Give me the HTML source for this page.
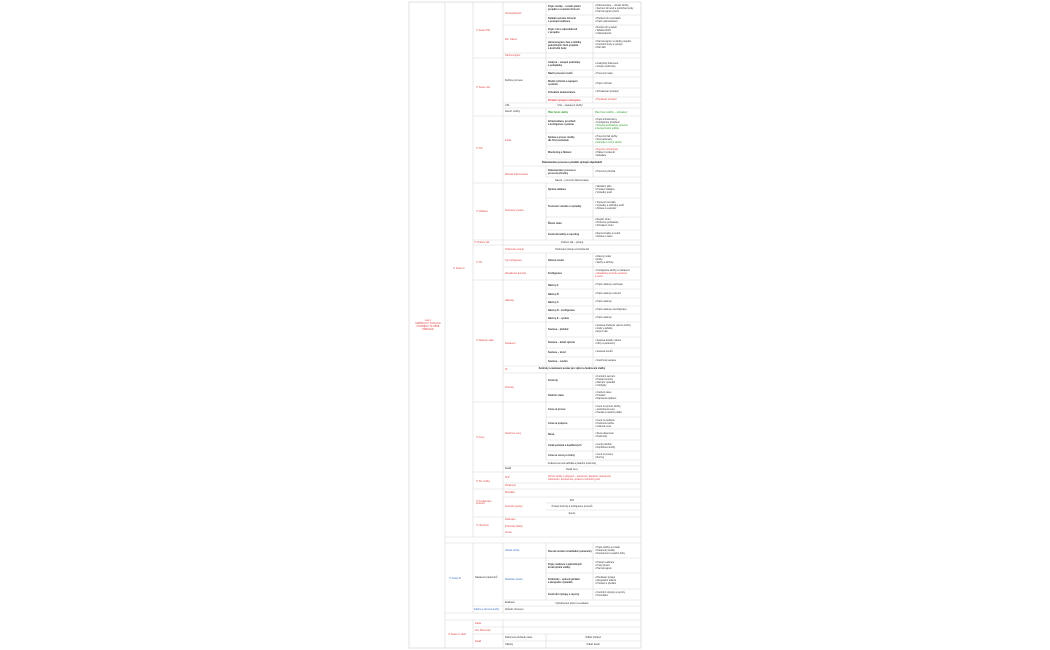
<!DOCTYPE html>
<html><head><meta charset="utf-8"><style>
html,body{margin:0;padding:0;background:#fff;width:1050px;height:650px;overflow:hidden}
svg{display:block}
text{font-family:"Liberation Sans",sans-serif;font-size:2.4px;fill:#333}
.r{fill:#e04545}.b{fill:#3a6fc0}.g{fill:#2a9a2a}.d{fill:#222;font-weight:bold}
.c{text-anchor:middle}
</style></head><body>
<svg width="1050" height="650" viewBox="0 0 1050 650">
<g stroke="#d8d8d8" stroke-width="0.6" fill="none">
<rect x="409" y="2" width="232" height="646" stroke="#cfcfcf"/>
<path d="M445 2V648 M473 2V537 M473 543V613 M473 620V648 M503 2V537 M503 543V613 M503 620V648"/>
<path d="M546 2V103 M546 108V159 M546 166V177 M546 183V240 M546 253V366 M546 373V460 M546 543V600 M546 634V648"/>
<path d="M593 2V103 M593 108V159 M593 166V177 M593 183V240 M593 253V366 M593 373V460 M593 543V600"/>
<path d="M445 537H641 M445 543H641 M445 613H641 M445 620H641"/>
<path d="M473 58H641 M473 116H641 M473 183H641 M473 240H641 M473 245H641 M473 280H641 M473 402H641 M473 472H641 M473 489H641 M473 517H641 M473 606H641 M473 627H641 M473 634H641"/>
<path d="M503 25H641 M503 53H641 M503 103H641 M503 108H641 M503 166H641 M503 253H641 M503 267H641 M503 322H641 M503 366H641 M503 373H641 M503 466H641 M503 483H641 M503 497H641 M503 558H641 M503 600H641 M503 641H641"/>
<path d="M546 15H641 M546 38H641 M546 70H641 M546 77H641 M546 88H641 M546 97H641 M546 133H641 M546 146H641 M546 159H641 M546 177H641 M546 198H641 M546 217H641 M546 230H641 M546 289H641 M546 298H641 M546 306H641 M546 314H641 M546 337H641 M546 348H641 M546 357H641 M546 389H641 M546 417H641 M546 429H641 M546 440H641 M546 451H641 M546 460H641 M546 503H641 M546 510H641 M546 573H641 M546 589H641"/>
</g>
<!-- column A -->
<text class="r c" x="428" y="321">cenny</text>
<text class="r c" x="428" y="324">NABÍDKOVÝ KATALOG</text>
<text class="r c" x="428" y="327">PODMÍNKY SLUŽEB</text>
<text class="r c" x="428" y="330">PŘEHLED</text>
<!-- column B -->
<text class="r" x="453" y="269">☐ Sekce A</text>
<text class="b" x="449" y="579">☐ Sekce B</text>
<text class="r" x="448" y="635">☐ Sekce C závěr</text>
<!-- column C -->
<text class="r" x="476" y="31">☐ Sekce PM</text>
<text class="r" x="476" y="88">☐ Sekce role</text>
<text class="r" x="476" y="149">☐ TIS</text>
<text class="r" x="476" y="212">☐ Validace</text>
<text class="r" x="474" y="243">☐ Ověření dat</text>
<text class="r" x="476" y="263">☐ TR</text>
<text class="r" x="476" y="341">☐ Nástroje sada</text>
<text class="r" x="476" y="438">☐ Ceny</text>
<text class="r" x="476" y="482">☐ Síť, služby</text>
<text class="r" x="476" y="502">☐ Konfigurace</text>
<text class="r" x="476" y="504">procesů</text>
<text class="r" x="476" y="526">☐ Ukončení</text>
<text x="475" y="578">Nastavení parametrů</text>
<text class="b" x="474" y="610">Záloha a obnova služby</text>
<text class="r" x="475" y="624">Fakta</text>
<text class="r" x="475" y="631">Dne Plánování</text>
<text class="r" x="475" y="642">Detail</text>
<!-- column D -->
<text class="r" x="505" y="14">Szczegółowość</text>
<text class="r" x="505" y="40">Rol, zakres</text>
<text class="r" x="505" y="56">Harmonogram</text>
<text x="505" y="81">Definice procesu</text>
<text x="505" y="106">USL</text>
<text x="505" y="112">Zaměř. služby</text>
<text class="r" x="505" y="141">Inside</text>
<text class="r" x="505" y="175">Rozsah dokumentace</text>
<text class="r" x="505" y="211">Současný systém</text>
<text class="r" x="505" y="250">Ověřovací postup</text>
<text class="r" x="505" y="261">Typ konfigurace</text>
<text class="r" x="505" y="274">Aktualizace konzole</text>
<text class="r" x="505" y="301">Nástroje</text>
<text class="r" x="505" y="344">Sestavení</text>
<text class="r" x="505" y="370">Dl</text>
<text class="r" x="505" y="388">Kontroly</text>
<text class="r" x="505" y="434">Souhrnné ceny</text>
<text x="505" y="469">Detail</text>
<text class="r" x="505" y="478">SLP</text>
<text class="r" x="505" y="486">Parametry</text>
<text class="r" x="505" y="493">Metodika</text>
<text class="r" x="505" y="507">Kontrolní postup</text>
<text class="r" x="505" y="520">Fakturace</text>
<text class="r" x="505" y="527">Podmínky platby</text>
<text class="r" x="505" y="533">Servis</text>
<text class="b" x="505" y="551">Obsah služby</text>
<text class="b" x="505" y="580">Realizace plnění</text>
<text x="505" y="603">Evaluace</text>
<text x="505" y="610">Způsob obnovení</text>
<text x="505" y="638">Dokument přehledu stavu</text>
<text x="505" y="645">Odkazy</text>
<!-- column E -->
<g class="d">
<text x="548" y="7">Popis služby – rozsah plnění</text><text x="548" y="10">projektu a souvislé činnosti</text>
<text x="548" y="19">Detailní seznam činností</text><text x="548" y="22">a postupů realizace</text>
<text x="548" y="30">Popis rolí a odpovědností</text><text x="548" y="33">v projektu</text>
<text x="548" y="43">Harmonogram, fáze a milníky</text><text x="548" y="46">jednotlivých částí projektu</text><text x="548" y="49">a kontrolní body</text>
<text x="548" y="63">Analýza – vstupní podmínky</text><text x="548" y="66">a požadavky</text>
<text x="548" y="74">Návrh procesů a toků</text>
<text x="548" y="82">Model rozhraní a napojení</text><text x="548" y="85">systémů</text>
<text x="548" y="93">Schválení dokumentace</text>
<text class="r" x="548" y="101">Předání výstupů a akceptace</text>
<text class="g" x="548" y="113">Plán řízení služby</text>
<text x="548" y="122">Infrastruktura, prostředí</text><text x="548" y="125">a konfigurace systému</text>
<text x="548" y="138">Správa a provoz služby</text><text x="548" y="141">dle SLA podmínek</text>
<text x="548" y="153">Monitoring a hlášení</text>
<text x="548" y="171">Dokumentace procesu a</text><text x="548" y="174">provozní příručky</text>
<text x="548" y="190">Správa validace</text>
<text x="548" y="207">Testovací scénáře a výsledky</text>
<text x="548" y="224">Řízení změn</text>
<text x="548" y="235">Kontrola kvality a reporting</text>
<text x="548" y="261">Datový model</text>
<text x="548" y="274">Konfigurace</text>
<text x="548" y="286">Nástroj A</text>
<text x="548" y="295">Nástroj B</text>
<text x="548" y="303">Nástroj C</text>
<text x="548" y="311">Nástroj D – konfigurace</text>
<text x="548" y="319">Nástroj E – správa</text>
<text x="548" y="330">Sestava – přehled</text>
<text x="548" y="343">Sestava – detail výkonu</text>
<text x="548" y="353">Sestava – trend</text>
<text x="548" y="362">Sestava – souhrn</text>
<text x="548" y="381">Kontroly</text>
<text x="548" y="396">Ověření stavu</text>
<text x="548" y="410">Cena za provoz</text>
<text x="548" y="424">Cena za podporu</text>
<text x="548" y="435">Sleva</text>
<text x="548" y="446">Ceník položek a doplňkových</text>
<text x="548" y="456">Cena za rozvoj a změny</text>
<text x="548" y="552">Rozsah služeb a kvalitativní parametry</text>
<text x="548" y="565">Popis realizace a jednotlivých</text><text x="548" y="568">kroků plnění služby</text>
<text x="548" y="580">Podmínky – způsob předání</text><text x="548" y="583">a akceptace výsledků</text>
<text x="548" y="595">Kontrolní výstupy a reporty</text>
</g>
<!-- column F -->
<g>
<text x="595" y="6">• Dokumentace – rozsah služby</text><text x="595" y="9">• Seznam činností a podrobné kroky</text><text x="595" y="12">• Harmonogram plnění</text>
<text x="595" y="19">• Přehled rolí a kontaktů</text><text x="595" y="22">• Popis odpovědnosti</text>
<text x="595" y="28">• Rozpis rolí a vazeb</text><text x="595" y="31">• Tabulka RACI</text><text x="595" y="34">• Odpovědnosti</text>
<text x="595" y="42">• Harmonogram a milníky projektu</text><text x="595" y="45">• Kontrolní body a výstupy</text><text x="595" y="48">• Plán fází</text>
<text x="595" y="64">• Analytický dokument</text><text x="595" y="67">• Vstupní podmínky</text>
<text x="595" y="74">• Procesní mapa</text>
<text x="595" y="84">• Popis rozhraní</text>
<text x="595" y="92">• Schvalovací protokol</text>
<text class="r" x="595" y="100">• Předávací protokol</text>
<text class="c" x="570" y="106">USL – nastavení služby</text>
<text class="g" x="595" y="113">Plán řízení služby – schválený</text>
<text x="595" y="120">• Popis infrastruktury</text><text x="595" y="123">• Konfigurace prostředí</text><text class="g" x="595" y="126">• Schéma architektury systému</text><text class="g" x="595" y="129">a bezpečnostní politiky</text>
<text x="595" y="137">• Provozní řád služby</text><text x="595" y="140">• SLA parametry</text><text class="g" x="595" y="143">• Dohoda o úrovni služeb</text>
<text class="r" x="595" y="150">• Reporty monitoringu</text><text x="595" y="153">• Hlášení incidentů</text><text x="595" y="156">• Eskalace</text>
<text class="c d" x="572" y="163">Dokumentace procesu a předání výstupů objednateli</text>
<text x="595" y="172">• Provozní příručka</text>
<text class="c" x="572" y="181">Návod – provozní dokumentace</text>
<text x="595" y="187">• Validační plán</text><text x="595" y="190">• Protokol validace</text><text x="595" y="193">• Výsledky testů</text>
<text x="595" y="203">• Testovací scénáře</text><text x="595" y="206">• Výsledky a odchylky testů</text><text x="595" y="209">• Zpráva o testování</text>
<text x="595" y="220">• Registr změn</text><text x="595" y="223">• Změnové požadavky</text><text x="595" y="226">• Schválení změn</text>
<text x="595" y="234">• Report kvality a metrik</text><text x="595" y="237">• Zpráva o stavu</text>
<text class="c" x="572" y="243">Ověření dat – postup</text>
<text class="c" x="572" y="250">Ověřovací postup a kontrola dat</text>
<text x="595" y="257">• Datový model</text><text x="595" y="260">• Entity</text><text x="595" y="263">• Vazby a atributy</text>
<text x="595" y="271">• Konfigurace služby a nastavení</text><text class="r" x="595" y="274">• Aktualizace konzole systému</text><text class="r" x="595" y="277">a verze</text>
<text x="595" y="285">• Popis nástroje a přístupu</text>
<text x="595" y="294">• Popis nástroje a licencí</text>
<text x="595" y="302">• Popis nástroje</text>
<text x="595" y="310">• Popis nástroje a konfigurace</text>
<text x="595" y="318">• Popis nástroje</text>
<text x="595" y="326">• Sestava přehledu výkonu služby</text><text x="595" y="329">• Grafy a tabulky</text><text x="595" y="332">• Export dat</text>
<text x="595" y="341">• Sestava detailu výkonu</text><text x="595" y="344">• Filtry a parametry</text>
<text x="595" y="352">• Sestava trendů</text>
<text x="595" y="361">• Souhrnná sestava</text>
<text class="c d" x="572" y="369">Kontroly a nastavení sestav pro výkon a hodnocení služby</text>
<text x="595" y="377">• Kontrolní seznam</text><text x="595" y="380">• Postup kontroly</text><text x="595" y="383">• Záznam výsledků</text><text x="595" y="386">• Odchylky</text>
<text x="595" y="393">• Ověření stavu</text><text x="595" y="396">• Protokol</text><text x="595" y="399">• Nápravná opatření</text>
<text x="595" y="407">• Cena za provoz služby</text><text x="595" y="410">• Jednotková cena</text><text x="595" y="413">• Paušál a měsíční platby</text>
<text x="595" y="421">• Cena za podporu</text><text x="595" y="424">• Hodinová sazba</text><text x="595" y="427">• Celková cena</text>
<text x="595" y="434">• Sleva objemová</text><text x="595" y="437">• Podmínky</text>
<text x="595" y="445">• Ceník položek</text><text x="595" y="448">• Doplňkové služby</text>
<text x="595" y="455">• Cena za změny</text><text x="595" y="458">• Rozvoj</text>
<text class="c" x="572" y="464">Celková cenová nabídka a platební podmínky</text>
<text class="c" x="572" y="470">Detail ceny</text>
<text class="r" x="548" y="477">Síťové služby a připojení – parametry, kapacita, dostupnost</text><text class="r" x="548" y="480">zálohování, bezpečnost, správa a monitoring sítě</text>
<text class="c" x="572" y="501">SLP</text>
<text class="c" x="572" y="507">Postup kontroly a konfigurace procesů</text>
<text class="c" x="572" y="514">Servis</text>
<text x="595" y="548">• Popis služby a rozsah</text><text x="595" y="551">• Parametry kvality</text><text x="595" y="554">• Dostupnost a reakční doby</text>
<text x="595" y="563">• Postup realizace</text><text x="595" y="566">• Kroky plnění</text><text x="595" y="569">• Harmonogram</text>
<text x="595" y="578">• Předávací postup</text><text x="595" y="581">• Akceptační kritéria</text><text x="595" y="584">• Protokol o předání</text>
<text x="595" y="593">• Kontrolní výstupy a reporty</text><text x="595" y="596">• Periodicita</text>
<text class="c" x="572" y="604">Vyhodnocení plnění a evaluace</text>
<text x="505" y="610"> </text>
<text class="c" x="593" y="638">Odkaz přehled</text>
<text class="c" x="593" y="645">Odkaz detail</text>
</g>
</svg>
</body></html>
